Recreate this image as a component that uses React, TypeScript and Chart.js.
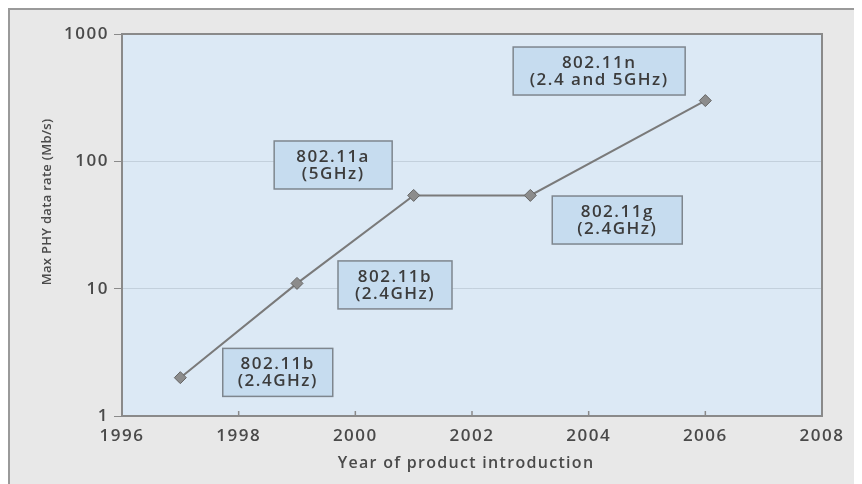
import React, { useEffect, useRef } from "react";
import { Chart, registerables } from "chart.js";

Chart.register(...registerables);

// ---- data ----
const years = [1997, 1999, 2001, 2003, 2006];
const rates = [2, 11, 54, 54, 300];
const xTickValues = [1996, 1998, 2000, 2002, 2004, 2006, 2008];
const yTickValues = [1, 10, 100, 1000];
const xTitle = "Year of product introduction";
const yTitle = "Max PHY data rate (Mb/s)";

// annotation texts and their anchor (in data units)
const noteLine1 = ["802.11b", "802.11b", "802.11a", "802.11g", "802.11n"];
const noteLine2 = ["(2.4GHz)", "(2.4GHz)", "(5GHz)", "(2.4GHz)", "(2.4 and 5GHz)"];
const noteYears = [1998.67, 2000.68, 1999.62, 2004.49, 2004.18];
const noteRates = [2.2, 10.7, 93.6, 34.6, 512];

// styles
const noteBoxWidths = [110, 114, 118, 130, 172];
const noteBoxHeight = 48;
const FONT = "'Open Sans', sans-serif";

export default function App() {
  const ref = useRef<HTMLCanvasElement | null>(null);

  useEffect(() => {
    const canvas = ref.current!;
    const decor = {
      id: "decor",
      beforeDraw(chart: any) {
        const { ctx, chartArea: a, width, height } = chart;
        ctx.save();
        ctx.fillStyle = "#e8e8e8";
        ctx.fillRect(0, 0, width, height);
        ctx.strokeStyle = "#9a9a9a";
        ctx.lineWidth = 2;
        ctx.beginPath();
        ctx.moveTo(1, height);
        ctx.lineTo(1, 1);
        ctx.lineTo(width, 1);
        ctx.stroke();
        ctx.fillStyle = "#dce9f5";
        ctx.fillRect(a.left, a.top, a.right - a.left, a.bottom - a.top);
        ctx.restore();
        (ctx as any).letterSpacing = "1.5px";
      },
      beforeDatasetsDraw(chart: any) {
        const { ctx, chartArea: a, scales } = chart;
        (ctx as any).letterSpacing = "0px";
        ctx.save();
        ctx.strokeStyle = "#8a8a8a";
        ctx.lineWidth = 2;
        ctx.strokeRect(a.left, a.top, a.right - a.left, a.bottom - a.top);
        // inward x ticks
        ctx.lineWidth = 1.5;
        ctx.beginPath();
        xTickValues.forEach((v) => {
          const px = scales.x.getPixelForValue(v);
          ctx.moveTo(px, a.bottom);
          ctx.lineTo(px, a.bottom - 5);
        });
        ctx.stroke();
        ctx.restore();
      },
      afterDraw(chart: any) {
        const { ctx, scales } = chart;
        ctx.save();
        (ctx as any).letterSpacing = "1.5px";
        ctx.textAlign = "center";
        ctx.textBaseline = "middle";
        // annotation boxes
        noteLine1.forEach((t, i) => {
          const cx = scales.x.getPixelForValue(noteYears[i]);
          const cy = scales.y.getPixelForValue(noteRates[i]);
          const w = noteBoxWidths[i];
          const h = noteBoxHeight;
          ctx.fillStyle = "#c6dcef";
          ctx.fillRect(cx - w / 2, cy - h / 2, w, h);
          ctx.strokeStyle = "#7e868e";
          ctx.lineWidth = 1.5;
          ctx.strokeRect(cx - w / 2, cy - h / 2, w, h);
          ctx.fillStyle = "#3c3c3c";
          ctx.font = `600 17px ${FONT}`;
          ctx.fillText(t, cx, cy - 8);
          ctx.fillText(noteLine2[i], cx, cy + 9);
        });
        // axis titles
        ctx.fillStyle = "#4a4a4a";
        (ctx as any).letterSpacing = "1.3px";
        ctx.font = `600 16px ${FONT}`;
        ctx.fillText(xTitle, 458, 455);
        ctx.save();
        ctx.translate(39, 194);
        ctx.rotate(-Math.PI / 2);
        (ctx as any).letterSpacing = "0.3px";
        ctx.font = `600 13px ${FONT}`;
        ctx.fillText(yTitle, 0, 0);
        ctx.restore();
        ctx.restore();
      },
    };

    const chart = new Chart(canvas, {
      type: "line",
      data: {
        datasets: [
          {
            data: years.map((y, i) => ({ x: y, y: rates[i] })),
            borderColor: "#7a7a7a",
            borderWidth: 2,
            pointStyle: "rectRot",
            pointRadius: 6,
            pointBackgroundColor: "#8c8c8c",
            pointBorderColor: "#666666",
            pointBorderWidth: 1,
            tension: 0,
          },
        ],
      },
      options: {
        responsive: false,
        animation: false,
        layout: { padding: { left: 0, top: 26, right: 40, bottom: 0 } },
        plugins: { legend: { display: false }, tooltip: { enabled: false } },
        scales: {
          x: {
            type: "linear",
            min: 1996,
            max: 2008,
            afterBuildTicks: (s: any) => {
              s.ticks = xTickValues.map((v) => ({ value: v }));
            },
            afterFit: (s: any) => {
              s.height = 68;
            },
            grid: { drawOnChartArea: false, drawTicks: false },
            border: { color: "#8a8a8a", width: 2 },
            ticks: {
              padding: 10,
              color: "#4a4a4a",
              font: { family: FONT, size: 17, weight: "600" },
              callback: (v: any) => String(v),
            },
          },
          y: {
            type: "logarithmic",
            min: 1,
            max: 1000,
            afterBuildTicks: (s: any) => {
              s.ticks = yTickValues.map((v) => ({ value: v }));
            },
            afterFit: (s: any) => {
              s.width = 114;
            },
            grid: {
              color: "rgba(150,162,175,0.35)",
              tickColor: "#8a8a8a",
              tickLength: 8,
              lineWidth: 1,
            },
            border: { color: "#8a8a8a", width: 2 },
            ticks: {
              padding: 5,
              color: "#4a4a4a",
              font: { family: FONT, size: 17, weight: "600" },
              callback: (v: any) => String(v),
            },
          },
        },
      } as any,
      plugins: [decor],
    });
    return () => chart.destroy();
  }, []);

  return <canvas ref={ref} width={854} height={476} style={{ display: "block" }} />;
}
